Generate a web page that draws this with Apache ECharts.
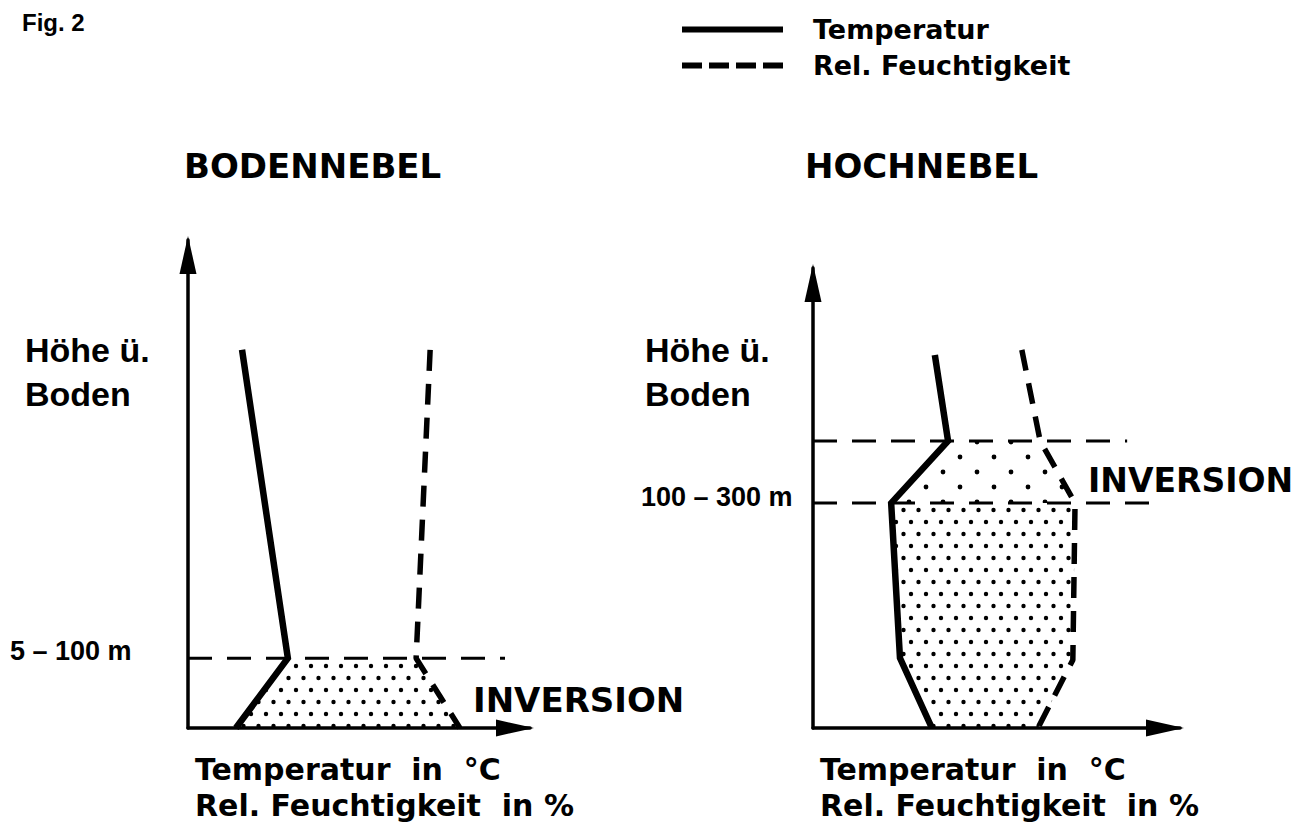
<!DOCTYPE html>
<html>
<head>
<meta charset="utf-8">
<title>Fig. 2</title>
<script src="https://cdn.jsdelivr.net/npm/echarts@6/dist/echarts.min.js"></script>
<style>
  html, body { margin: 0; background: #fff; }
  #chart { width: 1303px; height: 829px; }
</style>
</head>
<body>
<div id="chart"></div>
<script>
// Bodennebel (links), Werte in Achsenprozent (0..100)
const bodenTemp = [[15.8, 77.5], [29.2, 14.3], [14.0, 0]]
const bodenFeucht = [[70.8, 77.5], [66.7, 14.3], [79.5, 0]]
const bodenInversion = [[0, 14.3], [92.7, 14.3]]
const bodenNebel = [[29.2, 14.3], [66.7, 14.3], [79.5, 0], [14.0, 0]]

// Hochnebel (rechts)
const hochTemp = [[33.2, 81.1], [36.8, 62.4], [21.3, 48.9], [23.7, 15.2], [32.4, 0]]
const hochFeucht = [[56.9, 82.2], [61.9, 62.4], [71.4, 48.9], [70.8, 14.8], [61.3, 0]]
const hochObergrenze = [[0, 62.4], [85.6, 62.4]]
const hochUntergrenze = [[0, 48.9], [94.6, 48.9]]
const hochNebelOben = [[36.8, 62.4], [61.9, 62.4], [71.4, 48.9], [21.3, 48.9]]
const hochNebelUnten = [[21.3, 48.9], [71.4, 48.9], [70.8, 14.8], [61.3, 0], [32.4, 0], [23.7, 15.2]]

const seriesNames = ['Temperatur', 'Rel. Feuchtigkeit']

// Punktraster fuer den Nebel
function dotPattern(w, h, pts, r) {
  const c = document.createElement('canvas')
  c.width = w
  c.height = h
  const ctx = c.getContext('2d')
  ctx.fillStyle = '#000'
  pts.forEach((p) => {
    ctx.beginPath()
    ctx.arc(p[0], p[1], r, 0, Math.PI * 2)
    ctx.fill()
  })
  return { image: c, repeat: 'repeat', imageWidth: w, imageHeight: h }
}
const densePattern = dotPattern(15, 24, [[3.5, 6], [11, 18]], 2.2)
const sparsePattern = dotPattern(34, 30, [[8, 7], [25, 22]], 2.4)

const chart = echarts.init(document.getElementById('chart'), null, { renderer: 'svg' })

const axisLine = {
  show: true,
  onZero: false,
  symbol: ['none', 'triangle'],
  symbolSize: [17, 38],
  symbolOffset: [0, -15],
  lineStyle: { color: '#000', width: 3.5 },
}
function makeAxis(gridIndex) {
  return {
    type: 'value',
    gridIndex,
    min: 0,
    max: 100,
    axisLine,
    axisTick: { show: false },
    axisLabel: { show: false },
    splitLine: { show: false },
  }
}

function solid(name, data, idx) {
  return {
    type: 'line', name, data, xAxisIndex: idx, yAxisIndex: idx,
    symbol: 'none', z: 5,
    itemStyle: { color: '#000' },
    lineStyle: { color: '#000', width: 6.5, join: 'miter' },
  }
}
function dashed(name, data, idx) {
  return {
    type: 'line', name, data, xAxisIndex: idx, yAxisIndex: idx,
    symbol: 'none', z: 5,
    itemStyle: { color: '#000' },
    lineStyle: { color: '#000', width: 5.5, type: [21, 13] },
  }
}
function guide(data, idx) {
  return {
    type: 'line', data, xAxisIndex: idx, yAxisIndex: idx,
    symbol: 'none', z: 4, silent: true,
    lineStyle: { color: '#000', width: 3, type: [24, 15] },
  }
}
function fog(data, idx, pattern) {
  return {
    type: 'custom', data, xAxisIndex: idx, yAxisIndex: idx, z: 2, silent: true,
    renderItem(params, api) {
      if (params.dataIndex !== 0) return null
      const points = data.map((p) => api.coord(p))
      return { type: 'polygon', shape: { points }, style: { fill: pattern } }
    },
  }
}

function label(text, x, y, size, family, extra) {
  return {
    type: 'text', x, y, z: 10,
    style: Object.assign({
      text, fill: '#000', font: 'bold ' + size + 'px "' + family + '"',
      verticalAlign: 'middle',
    }, extra || {}),
  }
}
const LS = 'Liberation Sans'
const DV = 'DejaVu Sans'

chart.setOption({
  backgroundColor: '#fff',
  animation: false,
  legend: {
    orient: 'vertical',
    left: 677,
    top: 9,
    itemWidth: 101,
    itemHeight: 6,
    itemGap: 5,
    data: [
      { name: seriesNames[0], icon: 'rect' },
      { name: seriesNames[1], icon: 'path://M0 0h20v6H0z M27 0h20v6H27z M54 0h20v6H54z M81 0h20v6H81z' },
    ],
    textStyle: { color: '#000', fontSize: 27, fontWeight: 'bold', fontFamily: DV, lineHeight: 31, padding: [0, 0, 0, 25] },
  },
  grid: [
    { left: 188, top: 240, width: 342, height: 488 },
    { left: 813, top: 268, width: 367, height: 460 },
  ],
  xAxis: [makeAxis(0), makeAxis(1)],
  yAxis: [makeAxis(0), makeAxis(1)],
  series: [
    fog(bodenNebel, 0, densePattern),
    guide(bodenInversion, 0),
    solid(seriesNames[0], bodenTemp, 0),
    dashed(seriesNames[1], bodenFeucht, 0),
    fog(hochNebelOben, 1, sparsePattern),
    fog(hochNebelUnten, 1, densePattern),
    guide(hochObergrenze, 1),
    guide(hochUntergrenze, 1),
    solid(seriesNames[0], hochTemp, 1),
    dashed(seriesNames[1], hochFeucht, 1),
  ],
  graphic: [
    label('Fig. 2', 22, 22, 24, LS),
    label('BODENNEBEL', 184, 166, 34, DV),
    label('HOCHNEBEL', 805, 166, 34, DV),
    label('Höhe ü.\nBoden', 25, 372, 34, LS, { lineHeight: 44 }),
    label('Höhe ü.\nBoden', 645, 372, 34, LS, { lineHeight: 44 }),
    label('5 – 100 m', 10, 651, 27, LS),
    label('100 – 300 m', 641, 497, 27, LS),
    label('INVERSION', 473, 700, 34, DV),
    label('INVERSION', 1088, 480, 33, DV),
    label('Temperatur  in  °C', 195, 769, 30, DV),
    label('Rel. Feuchtigkeit  in %', 195, 805, 30, DV),
    label('Temperatur  in  °C', 820, 769, 30, DV),
    label('Rel. Feuchtigkeit  in %', 820, 805, 30, DV),
  ],
})
</script>
</body>
</html>
